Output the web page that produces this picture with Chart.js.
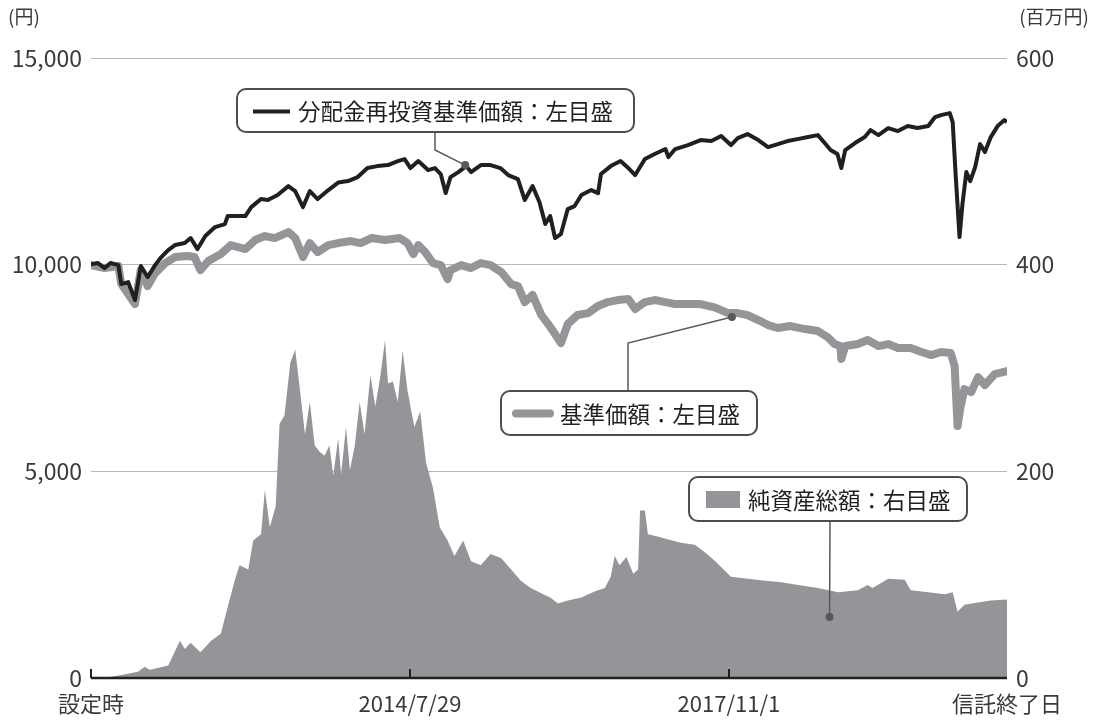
<!DOCTYPE html>
<html lang="ja">
<head>
<meta charset="utf-8">
<title>基準価額・純資産総額の推移</title>
<script src="https://cdn.jsdelivr.net/npm/chart.js@4.4.1/dist/chart.umd.min.js"></script>
<style>
  html, body { margin: 0; padding: 0; background: #fff; }
  #wrap { width: 1094px; height: 720px; }
</style>
</head>
<body>
<div id="wrap"><canvas id="grafico" width="1094" height="720"></canvas></div>
<script>
// eixo x em anos fracionários (設定時 -> 信託終了日)
const xTickYears = [2011.31, 2014.575, 2017.84, 2020.686];
const xTickLabels = ['設定時', '2014/7/29', '2017/11/1', '信託終了日'];
const leftTicks = [0, 5000, 10000, 15000];
const rightTicks = [0, 200, 400, 600];

// 分配金再投資基準価額 (円)
const reinvYears = [2011.31, 2011.38, 2011.45, 2011.51, 2011.59, 2011.62, 2011.69, 2011.76, 2011.82, 2011.89,
  2011.96, 2012.03, 2012.10, 2012.17, 2012.27, 2012.33, 2012.40, 2012.48, 2012.58, 2012.68,
  2012.71, 2012.78, 2012.89, 2012.95, 2013.05, 2013.12, 2013.22, 2013.33, 2013.40, 2013.48,
  2013.55, 2013.63, 2013.74, 2013.84, 2013.94, 2014.04, 2014.14, 2014.24, 2014.35, 2014.45,
  2014.52, 2014.58, 2014.66, 2014.76, 2014.83, 2014.89, 2014.94, 2014.99, 2015.07, 2015.15,
  2015.20, 2015.30, 2015.40, 2015.50, 2015.58, 2015.68, 2015.75, 2015.83, 2015.90, 2015.96,
  2016.01, 2016.06, 2016.12, 2016.19, 2016.26, 2016.33, 2016.43, 2016.50, 2016.53, 2016.63,
  2016.73, 2016.81, 2016.88, 2016.98, 2017.08, 2017.19, 2017.22, 2017.29, 2017.42, 2017.55,
  2017.66, 2017.76, 2017.86, 2017.93, 2018.03, 2018.14, 2018.24, 2018.34, 2018.44, 2018.54,
  2018.65, 2018.75, 2018.82, 2018.88, 2018.95, 2018.99, 2019.03, 2019.13, 2019.23, 2019.29,
  2019.37, 2019.47, 2019.57, 2019.67, 2019.77, 2019.88, 2019.95, 2020.01, 2020.10, 2020.13,
  2020.16, 2020.20, 2020.23, 2020.27, 2020.31, 2020.36, 2020.41, 2020.46, 2020.52, 2020.59,
  2020.66, 2020.686];
const reinvValues = [10010, 10039, 9918, 10039, 9990, 9531, 9579, 9144, 9966, 9700,
  9966, 10184, 10353, 10474, 10523, 10644, 10377, 10692, 10910, 10982,
  11176, 11176, 11176, 11393, 11587, 11563, 11684, 11901, 11781, 11393,
  11781, 11587, 11805, 11986, 12022, 12119, 12337, 12385, 12409, 12506,
  12555, 12337, 12506, 12289, 12337, 12192, 11732, 12119, 12240, 12385,
  12240, 12409, 12409, 12337, 12168, 12071, 11563, 11901, 11514, 10982,
  11176, 10644, 10740, 11345, 11418, 11684, 11805, 11732, 12192, 12385,
  12506, 12337, 12168, 12555, 12676, 12797, 12603, 12797, 12893, 13014,
  12990, 13111, 12893, 13063, 13159, 13014, 12845, 12917, 12990, 13038,
  13087, 13135, 12942, 12772, 12676, 12337, 12772, 12942, 13087, 13256,
  13135, 13305, 13232, 13353, 13305, 13353, 13571, 13619, 13667, 13450,
  12192, 10668, 11466, 12240, 12022, 12361, 12917, 12724, 13087, 13353,
  13498, 13450];

// 基準価額 (円)
const navYears = [2011.31, 2011.45, 2011.59, 2011.62, 2011.76, 2011.82, 2011.89, 2011.96, 2012.07, 2012.17,
  2012.30, 2012.37, 2012.43, 2012.51, 2012.64, 2012.74, 2012.89, 2012.99, 2013.09, 2013.19,
  2013.33, 2013.40, 2013.48, 2013.55, 2013.63, 2013.74, 2013.84, 2013.97, 2014.07, 2014.18,
  2014.32, 2014.47, 2014.55, 2014.61, 2014.66, 2014.73, 2014.81, 2014.89, 2014.96, 2014.99,
  2015.10, 2015.20, 2015.30, 2015.40, 2015.51, 2015.61, 2015.68, 2015.75, 2015.83, 2015.92,
  2015.99, 2016.06, 2016.12, 2016.19, 2016.29, 2016.40, 2016.50, 2016.60, 2016.70, 2016.81,
  2016.88, 2016.98, 2017.08, 2017.19, 2017.29, 2017.42, 2017.55, 2017.70, 2017.83, 2017.93,
  2018.03, 2018.14, 2018.24, 2018.34, 2018.47, 2018.62, 2018.75, 2018.85, 2018.92, 2018.98,
  2018.99, 2019.03, 2019.16, 2019.26, 2019.37, 2019.47, 2019.57, 2019.70, 2019.81, 2019.91,
  2020.01, 2020.11, 2020.15, 2020.18, 2020.21, 2020.25, 2020.32, 2020.39, 2020.46, 2020.56,
  2020.686];
const navValues = [9990, 9918, 9966, 9531, 9047, 9870, 9482, 9773, 10039, 10184,
  10208, 10184, 9870, 10087, 10257, 10474, 10377, 10595, 10692, 10644,
  10789, 10644, 10184, 10523, 10305, 10474, 10523, 10571, 10523, 10644,
  10595, 10644, 10523, 10257, 10474, 10305, 10039, 9990, 9652, 9870,
  9990, 9918, 10039, 9990, 9821, 9531, 9482, 9095, 9265, 8781,
  8563, 8321, 8104, 8563, 8781, 8829, 8999, 9095, 9144, 9168,
  8926, 9095, 9144, 9095, 9047, 9047, 9047, 8962, 8829, 8829,
  8781, 8660, 8539, 8467, 8515, 8442, 8394, 8249, 8079, 8031,
  7717, 8031, 8079, 8176, 8031, 8079, 7983, 7983, 7886, 7813,
  7886, 7862, 7547, 6096, 6555, 6991, 6918, 7281, 7088, 7354,
  7426];

// 純資産総額 (百万円)
const assetYears = [2011.31, 2011.50, 2011.62, 2011.79, 2011.86, 2011.91, 2011.96, 2012.10, 2012.13, 2012.22,
  2012.27, 2012.33, 2012.43, 2012.54, 2012.64, 2012.68, 2012.78, 2012.83, 2012.92, 2012.97,
  2013.05, 2013.09, 2013.14, 2013.20, 2013.24, 2013.29, 2013.35, 2013.40, 2013.45, 2013.50,
  2013.55, 2013.60, 2013.65, 2013.70, 2013.75, 2013.79, 2013.84, 2013.87, 2013.92, 2013.96,
  2014.01, 2014.06, 2014.11, 2014.17, 2014.22, 2014.27, 2014.32, 2014.35, 2014.40, 2014.45,
  2014.50, 2014.55, 2014.62, 2014.68, 2014.74, 2014.81, 2014.88, 2014.96, 2015.03, 2015.12,
  2015.20, 2015.30, 2015.40, 2015.51, 2015.61, 2015.71, 2015.81, 2015.92, 2016.01, 2016.09,
  2016.19, 2016.33, 2016.47, 2016.57, 2016.63, 2016.67, 2016.72, 2016.79, 2016.86, 2016.91,
  2016.93, 2016.98, 2017.01, 2017.11, 2017.22, 2017.35, 2017.49, 2017.59, 2017.70, 2017.86,
  2018.03, 2018.21, 2018.36, 2018.55, 2018.75, 2018.96, 2019.16, 2019.26, 2019.31, 2019.47,
  2019.64, 2019.70, 2019.88, 2020.05, 2020.13, 2020.18, 2020.25, 2020.39, 2020.52, 2020.686];
const assetValues = [0, 1, 3, 6, 11, 8, 9, 12, 18, 36,
  28, 34, 25, 36, 43, 58, 94, 109, 105, 133,
  139, 182, 146, 166, 246, 254, 305, 318, 278, 236,
  267, 225, 219, 215, 225, 196, 232, 197, 243, 201,
  225, 267, 236, 293, 263, 291, 327, 285, 287, 267,
  317, 278, 243, 258, 208, 184, 146, 133, 118, 133,
  113, 109, 120, 116, 105, 94, 87, 82, 78, 72,
  75, 78, 84, 87, 98, 118, 109, 117, 101, 105,
  162, 162, 139, 137, 134, 131, 129, 122, 113, 98,
  96, 94, 93, 90, 87, 83, 85, 90, 87, 96,
  95, 85, 83, 81, 83, 64, 71, 73, 75, 76];

const FONTE = '"Noto Sans CJK JP", "Noto Sans", sans-serif';
const CINZA = '#939598';
const PRETO = '#231f20';

// caixas de legenda com linha de chamada (âncora em coordenadas de dados)
const chamadas = [
  { box: [237, 89, 634, 132], texto: '分配金再投資基準価額：左目盛', simbolo: 'preto',
    caminho: [[435, 132], [435, 150]], ancora: { x: 2015.14, y: 12410, eixo: 'y' } },
  { box: [501, 391, 757, 435], texto: '基準価額：左目盛', simbolo: 'cinza',
    caminho: [[628, 391], [628, 343]], ancora: { x: 2017.87, y: 8733, eixo: 'y' } },
  { box: [689, 477, 967, 521], texto: '純資産総額：右目盛', simbolo: 'area',
    caminho: [[830, 521]], ancora: { x: 2018.87, y: 59, eixo: 'y2' } }
];

function pontos(xs, ys) {
  return xs.map((x, i) => ({ x: x, y: ys[i] }));
}

function caixaArredondada(ctx, x1, y1, x2, y2, r) {
  ctx.beginPath();
  ctx.moveTo(x1 + r, y1);
  ctx.lineTo(x2 - r, y1);
  ctx.arcTo(x2, y1, x2, y1 + r, r);
  ctx.lineTo(x2, y2 - r);
  ctx.arcTo(x2, y2, x2 - r, y2, r);
  ctx.lineTo(x1 + r, y2);
  ctx.arcTo(x1, y2, x1, y2 - r, r);
  ctx.lineTo(x1, y1 + r);
  ctx.arcTo(x1, y1, x1 + r, y1, r);
  ctx.closePath();
}

const sobreposicao = {
  id: 'sobreposicao',
  afterDatasetsDraw(chart) {
    const { ctx, chartArea, scales } = chart;
    ctx.save();

    // eixo x e marcas
    ctx.strokeStyle = PRETO;
    ctx.lineWidth = 2.5;
    ctx.beginPath();
    ctx.moveTo(chartArea.left, chartArea.bottom);
    ctx.lineTo(chartArea.right, chartArea.bottom);
    ctx.stroke();
    ctx.lineWidth = 2;
    xTickYears.slice(0, 3).forEach(v => {
      const px = Math.round(scales.x.getPixelForValue(v));
      ctx.beginPath();
      ctx.moveTo(px, chartArea.bottom);
      ctx.lineTo(px, chartArea.bottom - 9);
      ctx.stroke();
    });

    // unidades
    ctx.fillStyle = '#3a3a3a';
    ctx.font = '19px ' + FONTE;
    ctx.textBaseline = 'middle';
    ctx.textAlign = 'left';
    ctx.fillText('(円)', 8, 17);
    ctx.textAlign = 'right';
    ctx.fillText('(百万円)', 1089, 17);

    // chamadas
    chamadas.forEach(c => {
      const ax = scales.x.getPixelForValue(c.ancora.x);
      const ay = scales[c.ancora.eixo].getPixelForValue(c.ancora.y);
      ctx.strokeStyle = '#58595b';
      ctx.lineWidth = 1.5;
      ctx.beginPath();
      ctx.moveTo(c.caminho[0][0], c.caminho[0][1]);
      c.caminho.slice(1).forEach(p => ctx.lineTo(p[0], p[1]));
      ctx.lineTo(ax, ay);
      ctx.stroke();
      ctx.fillStyle = '#58595b';
      ctx.beginPath();
      ctx.arc(ax, ay, 4, 0, Math.PI * 2);
      ctx.fill();

      const [x1, y1, x2, y2] = c.box;
      caixaArredondada(ctx, x1, y1, x2, y2, 9);
      ctx.fillStyle = '#fff';
      ctx.fill();
      ctx.strokeStyle = '#4d4d4d';
      ctx.lineWidth = 2;
      ctx.stroke();

      const cy = (y1 + y2) / 2;
      let tx;
      if (c.simbolo === 'preto') {
        ctx.strokeStyle = PRETO; ctx.lineWidth = 4; ctx.lineCap = 'butt';
        ctx.beginPath(); ctx.moveTo(x1 + 16, cy + 1); ctx.lineTo(x1 + 53, cy + 1); ctx.stroke();
        tx = x1 + 61;
      } else if (c.simbolo === 'cinza') {
        ctx.strokeStyle = CINZA; ctx.lineWidth = 8; ctx.lineCap = 'round';
        ctx.beginPath(); ctx.moveTo(x1 + 15, cy + 0.5); ctx.lineTo(x1 + 49, cy + 0.5); ctx.stroke();
        tx = x1 + 59;
      } else {
        ctx.fillStyle = CINZA;
        ctx.fillRect(x1 + 17, cy - 8, 34, 17);
        tx = x1 + 59;
      }
      ctx.lineCap = 'butt';
      ctx.fillStyle = PRETO;
      ctx.font = '22.5px ' + FONTE;
      ctx.textAlign = 'left';
      ctx.textBaseline = 'middle';
      ctx.fillText(c.texto, tx, cy + 1);
    });

    ctx.restore();
  }
};

const fonteTicks = { family: FONTE, size: 23 };

new Chart(document.getElementById('grafico'), {
  type: 'line',
  data: {
    datasets: [
      {
        label: '分配金再投資基準価額',
        data: pontos(reinvYears, reinvValues),
        yAxisID: 'y',
        borderColor: PRETO,
        borderWidth: 4,
        borderJoinStyle: 'round',
        pointRadius: 0,
        fill: false,
        order: 1
      },
      {
        label: '基準価額',
        data: pontos(navYears, navValues),
        yAxisID: 'y',
        borderColor: CINZA,
        borderWidth: 8,
        borderJoinStyle: 'round',
        borderCapStyle: 'round',
        pointRadius: 0,
        fill: false,
        order: 2
      },
      {
        label: '純資産総額',
        data: pontos(assetYears, assetValues),
        yAxisID: 'y2',
        borderWidth: 0,
        borderColor: CINZA,
        backgroundColor: CINZA,
        pointRadius: 0,
        fill: 'origin',
        order: 3
      }
    ]
  },
  options: {
    responsive: false,
    animation: false,
    layout: { padding: { top: 58, right: 0, bottom: 0, left: 0 } },
    plugins: { legend: { display: false }, tooltip: { enabled: false } },
    scales: {
      x: {
        type: 'linear',
        min: xTickYears[0],
        max: xTickYears[3],
        afterBuildTicks: s => { s.ticks = xTickYears.map(v => ({ value: v })); },
        afterFit: s => { s.height = 42; },
        grid: { display: false },
        border: { display: false },
        ticks: {
          autoSkip: false,
          maxRotation: 0,
          padding: 4,
          color: '#3a3a3a',
          font: { family: FONTE, size: 22 },
          callback: (v, i) => xTickLabels[i]
        }
      },
      y: {
        position: 'left',
        min: 0,
        max: 15000,
        afterBuildTicks: s => { s.ticks = leftTicks.map(v => ({ value: v })); },
        afterFit: s => { s.width = 91; },
        grid: {
          drawTicks: false,
          lineWidth: 1,
          color: c => (c.tick && c.tick.value === 0) ? 'rgba(0,0,0,0)' : '#b8b8b8'
        },
        border: { display: false },
        ticks: {
          padding: 9,
          color: '#3a3a3a',
          font: fonteTicks,
          callback: v => v.toLocaleString('en-US')
        }
      },
      y2: {
        position: 'right',
        min: 0,
        max: 600,
        afterBuildTicks: s => { s.ticks = rightTicks.map(v => ({ value: v })); },
        afterFit: s => { s.width = 87; },
        grid: { display: false, drawTicks: false },
        border: { display: false },
        ticks: {
          padding: 9,
          color: '#3a3a3a',
          font: fonteTicks,
          callback: v => String(v)
        }
      }
    }
  },
  plugins: [sobreposicao]
});
</script>
</body>
</html>
